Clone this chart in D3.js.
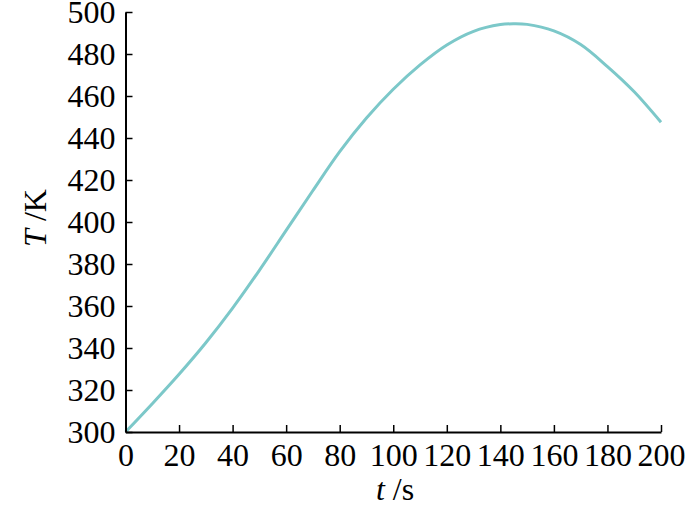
<!DOCTYPE html>
<html><head><meta charset="utf-8">
<script src="https://cdn.jsdelivr.net/npm/d3@7"></script>
<style>body{margin:0;background:#fff}svg{display:block}
text{font-family:'Liberation Serif','Times New Roman',serif !important;}</style>
</head><body>
<svg id="c" width="700" height="507"></svg>
<script>
const times = [0,10,20,30,40,50,60,70,80,90,100,110,120,130,140,145,150,160,170,180,190,200];
const temps = [300,313.5,327.5,342.5,359,377,396,415,433.5,449.5,463.2,474.8,484.3,490.8,494,494.4,494.1,491,484.5,474,462,447.5];
const xTicks = [0,20,40,60,80,100,120,140,160,180,200];
const yTicks = [300,320,340,360,380,400,420,440,460,480,500];

const svg = d3.select("#c");
const x = d3.scaleLinear().domain([0,200]).range([125.5,661]);
const y = d3.scaleLinear().domain([300,500]).range([432,12]);
const font = "'Liberation Serif','Times New Roman',serif";

const line = d3.line().x(d=>x(d[0])).y(d=>y(d[1])).curve(d3.curveCatmullRom.alpha(0.5));
svg.append("path").datum(times.map((t,i)=>[t,temps[i]]))
  .attr("d",line).attr("fill","none").attr("stroke","#7cc8c9").attr("stroke-width",3);

const xa = svg.append("g").attr("transform",`translate(0,${y(300)})`)
  .call(d3.axisBottom(x).tickValues(xTicks).tickSizeInner(-7).tickSizeOuter(0).tickPadding(11));
const ya = svg.append("g").attr("transform",`translate(${x(0)},0)`)
  .call(d3.axisLeft(y).tickValues(yTicks).tickSizeInner(-7).tickSizeOuter(0).tickPadding(10));
[xa,ya].forEach(a=>{
  a.attr("font-family",font).attr("font-size",32);
  a.select(".domain").attr("stroke","#000").attr("stroke-width",2);
  a.selectAll(".tick line").attr("stroke","#000").attr("stroke-width",1.5);
  a.selectAll("text").attr("fill","#000");
});

svg.append("text").attr("x",395).attr("y",500).attr("text-anchor","middle")
  .attr("font-family",font).attr("font-size",32)
  .html('<tspan font-style="italic">t</tspan> /s');
svg.append("text").attr("transform","translate(46,218) rotate(-90)").attr("text-anchor","middle")
  .attr("font-family",font).attr("font-size",32)
  .html('<tspan font-style="italic">T</tspan> /K');
</script>
</body></html>
